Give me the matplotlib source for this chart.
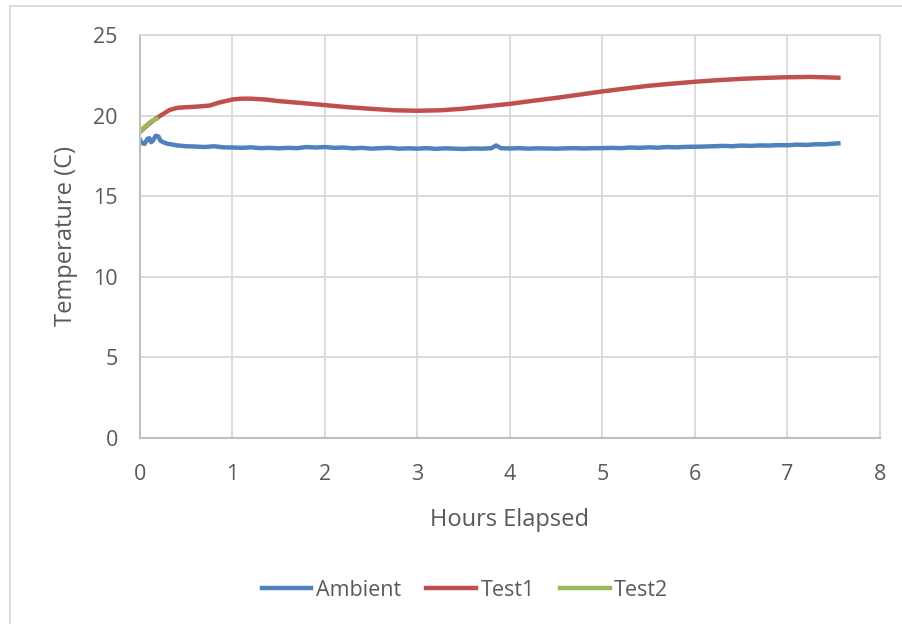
import matplotlib
matplotlib.use("Agg")
import matplotlib.pyplot as plt
from matplotlib.patches import Rectangle

plt.rcParams['font.family'] = ['Open Sans', 'DejaVu Sans']

# Ambient temperature log
ambient_hours = [0.00, 0.02, 0.05, 0.08, 0.10, 0.12, 0.14, 0.17, 0.20, 0.22, 0.25, 0.30,
                 0.35, 0.40, 0.50, 0.60, 0.70, 0.80, 0.90, 1.00, 1.10, 1.20, 1.30, 1.40,
                 1.50, 1.60, 1.70, 1.80, 1.90, 2.00, 2.10, 2.20, 2.30, 2.40, 2.50, 2.60,
                 2.70, 2.80, 2.90, 3.00, 3.10, 3.20, 3.30, 3.40, 3.50, 3.60, 3.70, 3.80,
                 3.85, 3.90, 4.00, 4.10, 4.20, 4.30, 4.40, 4.50, 4.60, 4.70, 4.80, 4.90,
                 5.00, 5.10, 5.20, 5.30, 5.40, 5.50, 5.60, 5.70, 5.80, 5.90, 6.00, 6.10,
                 6.20, 6.30, 6.40, 6.50, 6.60, 6.70, 6.80, 6.90, 7.00, 7.10, 7.20, 7.30,
                 7.40, 7.50, 7.55]
ambient_temp = [18.50, 18.30, 18.25, 18.55, 18.60, 18.35, 18.45, 18.75, 18.70, 18.45, 18.35, 18.25,
                18.20, 18.15, 18.10, 18.08, 18.05, 18.10, 18.03, 18.02, 18.00, 18.03, 17.98, 18.00,
                17.97, 18.00, 17.98, 18.05, 18.02, 18.05, 18.00, 18.02, 17.97, 18.00, 17.95, 17.98,
                18.00, 17.95, 17.97, 17.95, 17.98, 17.94, 17.97, 17.95, 17.93, 17.96, 17.95, 17.98,
                18.15, 17.98, 17.96, 17.98, 17.95, 17.97, 17.96, 17.95, 17.97, 17.98, 17.96, 17.98,
                17.98, 18.00, 17.98, 18.02, 18.00, 18.03, 18.01, 18.05, 18.03, 18.06, 18.07, 18.08,
                18.10, 18.12, 18.10, 18.14, 18.12, 18.15, 18.14, 18.17, 18.16, 18.20, 18.18, 18.22,
                18.22, 18.26, 18.28]

# Test1 sample temperature
test1_hours = [0.00, 0.10, 0.18, 0.25, 0.32, 0.40, 0.50, 0.60, 0.75, 0.85, 1.00, 1.10,
               1.20, 1.35, 1.50, 1.75, 2.00, 2.25, 2.50, 2.75, 3.00, 3.25, 3.50, 3.75,
               4.00, 4.25, 4.50, 4.75, 5.00, 5.25, 5.50, 5.75, 6.00, 6.25, 6.50, 6.75,
               7.00, 7.25, 7.55]
test1_temp = [19.00, 19.50, 19.85, 20.10, 20.35, 20.48, 20.52, 20.55, 20.62, 20.80, 21.00, 21.05,
              21.05, 21.00, 20.90, 20.78, 20.65, 20.52, 20.42, 20.33, 20.30, 20.33, 20.43, 20.58,
              20.73, 20.92, 21.10, 21.30, 21.50, 21.68, 21.85, 21.98, 22.10, 22.20, 22.28, 22.34,
              22.38, 22.40, 22.35]

# Test2 sample temperature
test2_hours = [0.00, 0.03, 0.06, 0.10, 0.14, 0.18]
test2_temp = [19.00, 19.20, 19.35, 19.55, 19.70, 19.80]

x_ticks = [0, 1, 2, 3, 4, 5, 6, 7, 8]
y_ticks = [0, 5, 10, 15, 20, 25]

text_color = '#595959'
grid_color = '#d9d9d9'

fig = plt.figure(figsize=(9.03, 6.24), dpi=100)
fig.patch.set_facecolor('white')
fig.patches.append(Rectangle((10 / 903, -0.1), 1.2, (624 - 6) / 624 + 0.1,
                             transform=fig.transFigure, fill=False,
                             edgecolor='#d9d9d9', linewidth=1.3))

ax = fig.add_axes([140 / 903, (624 - 438) / 624, 740 / 903, 403 / 624])
ax.plot(ambient_hours, ambient_temp, color='#4f81bd', lw=3.2, label='Ambient',
        solid_joinstyle='round')
ax.plot(test1_hours, test1_temp, color='#c0504d', lw=3.2, label='Test1',
        solid_joinstyle='round')
ax.plot(test2_hours, test2_temp, color='#9bbb59', lw=3.2, label='Test2',
        solid_joinstyle='round')

ax.set_xlim(0, 8)
ax.set_ylim(0, 25)
ax.set_xticks(x_ticks)
ax.set_yticks(y_ticks)
ax.grid(True, color=grid_color, linewidth=1.3)
ax.set_axisbelow(True)
for side in ['top', 'right']:
    ax.spines[side].set_color(grid_color)
    ax.spines[side].set_linewidth(1.3)
for side in ['left', 'bottom']:
    ax.spines[side].set_color('#bfbfbf')
    ax.spines[side].set_linewidth(1.5)
ax.tick_params(length=0, labelsize=15.5, colors=text_color)
ax.tick_params(axis='x', pad=18.5)
ax.tick_params(axis='y', pad=16)

ax.set_xlabel('Hours Elapsed', fontsize=17, color=text_color, labelpad=16.5)
ax.set_ylabel('Temperature (C)', fontsize=17, color=text_color, labelpad=11)

fig.legend(loc='center', bbox_to_anchor=(465 / 903, 1 - 590 / 624), ncol=3,
           frameon=False, fontsize=15.5, labelcolor=text_color,
           handlelength=2.3, handletextpad=0.2, columnspacing=1.2)

fig.savefig('out.png', dpi=100)
